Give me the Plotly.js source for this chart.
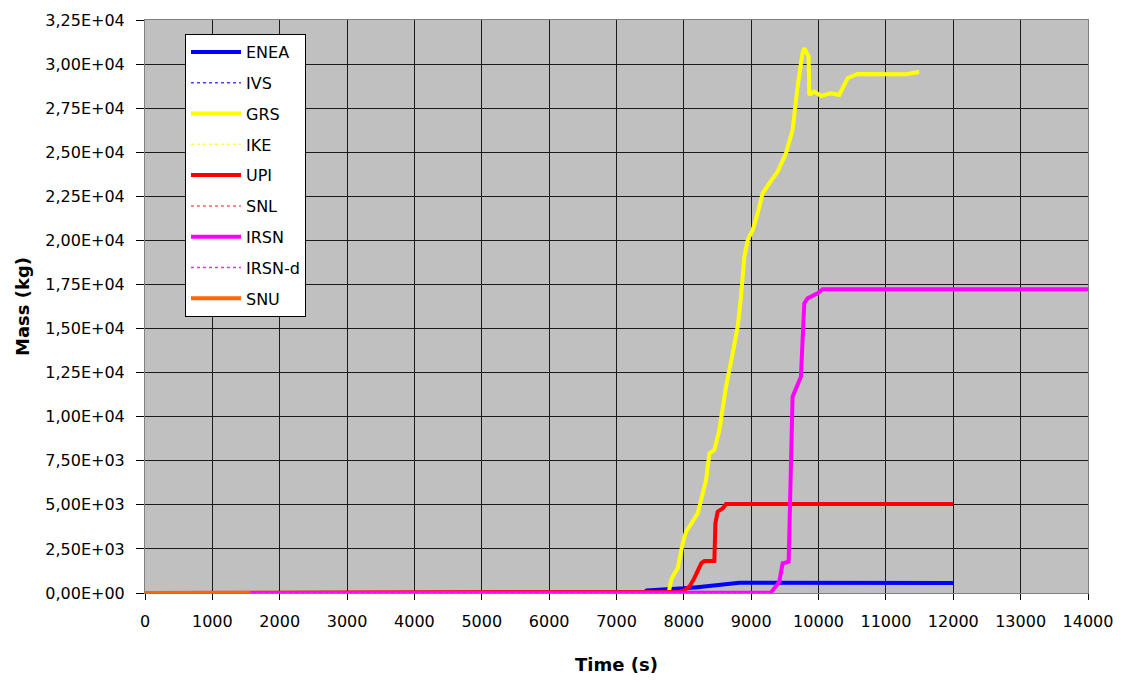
<!DOCTYPE html>
<html>
<head>
<meta charset="utf-8">
<script src="https://cdn.plot.ly/plotly-3.0.1.min.js"></script>
<style>html,body{margin:0;padding:0;background:#fff;}#chart{width:1124px;height:682px;}</style>
</head>
<body>
<div id="chart"></div>
<script>
// ---- data ----
const enea_x = [0, 7400, 7450, 7700, 8000, 8200, 8500, 8700, 8824, 12000];
const enea_y = [0, 0, 150, 190, 265, 330, 454, 540, 586, 570];

// dotted series: only visible as zero-valued segments hidden under the solid lines
const ivs_x = [0, 1560];
const ivs_y = [0, 0];
const ike_x = [0, 1560];
const ike_y = [0, 0];
const snl_x = [0, 1560];
const snl_y = [0, 0];

const grs_x = [7780, 7811, 7860, 7909, 7983, 8033, 8120, 8206, 8256, 8330, 8379, 8453, 8527, 8626, 8725, 8799, 8848, 8898, 8948, 9022, 9100, 9169, 9280, 9392, 9516, 9614, 9689, 9760, 9788, 9820, 9852, 9862, 9936, 10035, 10183, 10307, 10430, 10578, 10949, 11295, 11493];
const grs_y = [100, 737, 1100, 1401, 2819, 3477, 4000, 4521, 5275, 6410, 7924, 8111, 9246, 11703, 13596, 15105, 16807, 19076, 20023, 20590, 21600, 22672, 23300, 23897, 24941, 26262, 28718, 30600, 30896, 30700, 30423, 28250, 28437, 28193, 28346, 28250, 29196, 29438, 29438, 29420, 29551];

const upi_x = [0, 7934, 8000, 8082, 8150, 8206, 8260, 8305, 8453, 8468, 8502, 8577, 8626, 12000];
const upi_y = [0, 75, 150, 360, 800, 1210, 1700, 1815, 1815, 3951, 4612, 4800, 5048, 5048];

const irsn_x = [1560, 9293, 9417, 9466, 9556, 9614, 9738, 9788, 9837, 9986, 10060, 14000];
const irsn_y = [0, 17, 641, 1685, 1775, 11135, 12270, 16433, 16716, 16999, 17226, 17226];

const irsnd_x = [1560, 9293];
const irsnd_y = [0, 0];

const snu_x = [0, 1560];
const snu_y = [0, 0];

const series_names = ["ENEA", "IVS", "GRS", "IKE", "UPI", "SNL", "IRSN", "IRSN-d", "SNU"];

const x_tickvals = [0, 1000, 2000, 3000, 4000, 5000, 6000, 7000, 8000, 9000, 10000, 11000, 12000, 13000, 14000];
const y_tickvals = [0, 2500, 5000, 7500, 10000, 12500, 15000, 17500, 20000, 22500, 25000, 27500, 30000, 32500];
const y_ticktext = ["0,00E+00", "2,50E+03", "5,00E+03", "7,50E+03", "1,00E+04", "1,25E+04", "1,50E+04", "1,75E+04", "2,00E+04", "2,25E+04", "2,50E+04", "2,75E+04", "3,00E+04", "3,25E+04"];

function tr(name, x, y, color, width, dash) {
  return {type: 'scatter', mode: 'lines', name: name, x: x, y: y,
          legendgroup: name,
          line: {color: color, width: width, dash: dash || 'solid'}};
}

const traces = [
  tr(series_names[0], enea_x, enea_y, '#0000ff', 4),
  tr(series_names[1], ivs_x, ivs_y, '#4444ff', 1.5, 'dot'),
  tr(series_names[2], grs_x, grs_y, '#ffff00', 4),
  tr(series_names[3], ike_x, ike_y, '#ffff55', 1.5, 'dot'),
  tr(series_names[4], upi_x, upi_y, '#ff0000', 4),
  tr(series_names[5], snl_x, snl_y, '#ff6666', 1.5, 'dot'),
  tr(series_names[6], irsn_x, irsn_y, '#ff00ff', 4),
  tr(series_names[7], irsnd_x, irsnd_y, '#ff22ff', 1.5, 'dot'),
  tr(series_names[8], snu_x, snu_y, '#ff6600', 4)
];

const fam = 'DejaVu Sans, Verdana, sans-serif';

const layout = {
  width: 1124, height: 682,
  margin: {l: 145, r: 36, t: 20, b: 89, pad: 0},
  paper_bgcolor: '#ffffff',
  plot_bgcolor: '#c0c0c0',
  font: {family: fam, size: 16, color: '#000'},
  showlegend: true,
  legend: {
    x: 0.0424, y: 0.9756, xanchor: 'left', yanchor: 'top',
    bgcolor: '#ffffff', bordercolor: '#000000', borderwidth: 1,
    font: {family: fam, size: 16, color: '#000'},
    tracegroupgap: 7, traceorder: 'grouped', itemwidth: 50
  },
  xaxis: {
    range: [0, 14000], tickvals: x_tickvals, ticktext: x_tickvals.map(String),
    tickfont: {family: fam, size: 16},
    showgrid: true, gridcolor: '#1a1a1a', gridwidth: 1,
    ticks: 'outside', ticklen: 6, tickcolor: '#000',
    ticklabelstandoff: 8,
    showline: true, linecolor: '#808080', linewidth: 1, mirror: true,
    zeroline: false,
    title: {text: '<b>Time (s)</b>', font: {family: fam, size: 18}, standoff: 28}
  },
  yaxis: {
    range: [0, 32500], tickvals: y_tickvals, ticktext: y_ticktext,
    tickfont: {family: fam, size: 16},
    showgrid: true, gridcolor: '#1a1a1a', gridwidth: 1,
    ticks: 'outside', ticklen: 8, tickcolor: '#000',
    ticklabelstandoff: 8,
    showline: true, linecolor: '#808080', linewidth: 1, mirror: true,
    zeroline: false,
    title: {text: '<b>Mass (kg)</b>', font: {family: fam, size: 18}, standoff: 10}
  }
};

Plotly.newPlot('chart', traces, layout, {displayModeBar: false, staticPlot: true});
</script>
</body>
</html>
